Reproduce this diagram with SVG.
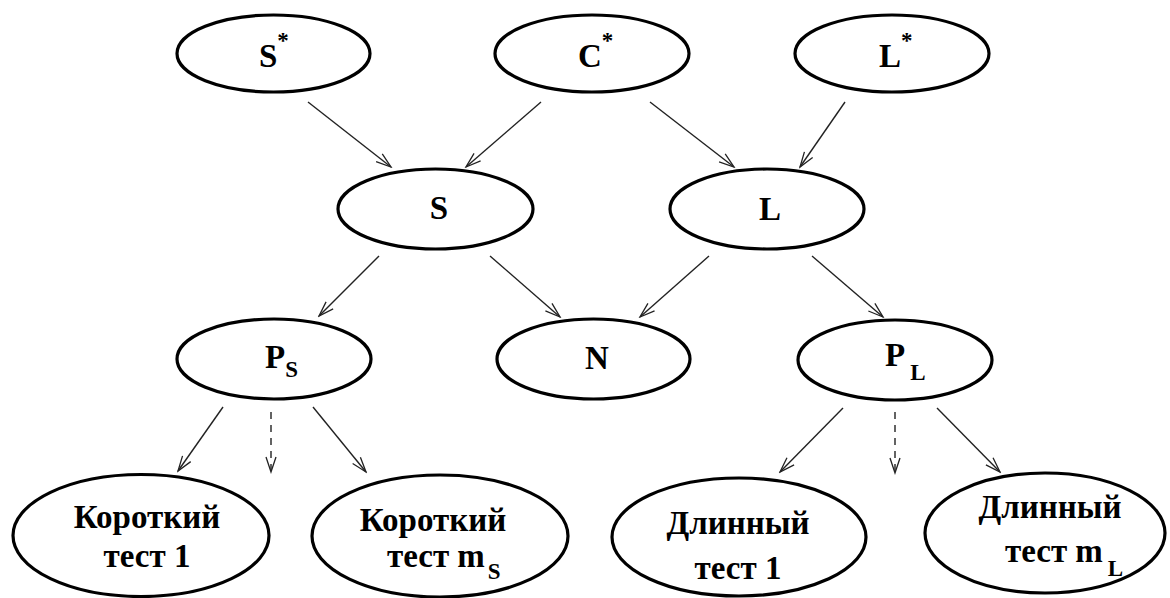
<svg xmlns="http://www.w3.org/2000/svg" width="1170" height="598" viewBox="0 0 1170 598">
<style>
.n{fill:#fff;stroke:#000;stroke-width:3.2}
text{font-family:"Liberation Serif",serif;font-weight:bold;fill:#000}
.big{font-size:33px}
.sm{font-size:33px}
.sub{font-size:23px}
.c{stroke:#222;stroke-width:1.4;fill:none}
.d{stroke-dasharray:7 6}
</style>
<defs>
<marker id="ah" markerWidth="18" markerHeight="12" refX="16" refY="6" orient="auto" markerUnits="userSpaceOnUse">
<path d="M1,1 L16,6 L1,11" fill="none" stroke="#222" stroke-width="1.3"/>
</marker>
</defs>
<rect width="1170" height="598" fill="#fff"/>
<g id="connectors">
<line class="c" x1="308" y1="102" x2="391" y2="167" marker-end="url(#ah)"/>
<line class="c" x1="541" y1="102" x2="466" y2="167" marker-end="url(#ah)"/>
<line class="c" x1="650" y1="102" x2="734" y2="167" marker-end="url(#ah)"/>
<line class="c" x1="845" y1="102" x2="800" y2="167" marker-end="url(#ah)"/>
<line class="c" x1="379" y1="256" x2="319" y2="316" marker-end="url(#ah)"/>
<line class="c" x1="490" y1="256" x2="560" y2="317" marker-end="url(#ah)"/>
<line class="c" x1="709" y1="256" x2="640" y2="317" marker-end="url(#ah)"/>
<line class="c" x1="812" y1="256" x2="883" y2="317" marker-end="url(#ah)"/>
<line class="c" x1="223" y1="407" x2="178" y2="471" marker-end="url(#ah)"/>
<line class="c d" x1="271" y1="412" x2="271" y2="472" marker-end="url(#ah)"/>
<line class="c" x1="313" y1="407" x2="366" y2="472" marker-end="url(#ah)"/>
<line class="c" x1="843" y1="408" x2="780" y2="472" marker-end="url(#ah)"/>
<line class="c d" x1="895" y1="412" x2="895" y2="473" marker-end="url(#ah)"/>
<line class="c" x1="937" y1="408" x2="1000" y2="472" marker-end="url(#ah)"/>
</g>
<g id="node-Sstar">
<ellipse class="n" cx="273.5" cy="53.5" rx="96.5" ry="38.5"/>
<text class="big" x="259" y="67">S<tspan class="sub" dy="-19">*</tspan></text>
</g>
<g id="node-Cstar">
<ellipse class="n" cx="592" cy="53.5" rx="97" ry="38.5"/>
<text class="big" x="578" y="67">C<tspan class="sub" dy="-19">*</tspan></text>
</g>
<g id="node-Lstar">
<ellipse class="n" cx="892" cy="53.5" rx="97" ry="38.5"/>
<text class="big" x="879" y="67">L<tspan class="sub" dy="-19">*</tspan></text>
</g>
<g id="node-S">
<ellipse class="n" cx="435.5" cy="209" rx="97.5" ry="40"/>
<text class="big" x="439" y="219" text-anchor="middle">S</text>
</g>
<g id="node-L">
<ellipse class="n" cx="767" cy="209" rx="97" ry="40"/>
<text class="big" x="770" y="220" text-anchor="middle">L</text>
</g>
<g id="node-PS">
<ellipse class="n" cx="274" cy="359" rx="97" ry="40"/>
<text class="big" x="265" y="368">P<tspan class="sub" dy="9">S</tspan></text>
</g>
<g id="node-N">
<ellipse class="n" cx="593.5" cy="359" rx="96.5" ry="40"/>
<text class="big" x="597" y="369" text-anchor="middle">N</text>
</g>
<g id="node-PL">
<ellipse class="n" cx="895" cy="360" rx="97" ry="40"/>
<text class="big" x="885" y="366">P<tspan class="sub" dx="5" dy="14">L</tspan></text>
</g>
<g id="node-short1">
<ellipse class="n" cx="141" cy="535.5" rx="128" ry="61"/>
<text class="sm" x="147" y="528" text-anchor="middle">Короткий</text>
<text class="sm" x="147" y="567" text-anchor="middle">тест 1</text>
</g>
<g id="node-shortm">
<ellipse class="n" cx="440" cy="536" rx="128" ry="61"/>
<text class="sm" x="433" y="531" text-anchor="middle">Короткий</text>
<text class="sm" x="387" y="567">тест m<tspan class="sub" dx="3" dy="12">S</tspan></text>
</g>
<g id="node-long1">
<ellipse class="n" cx="739" cy="537" rx="127" ry="59"/>
<text class="sm" x="738" y="534" text-anchor="middle">Длинный</text>
<text class="sm" x="738" y="579" text-anchor="middle">тест 1</text>
</g>
<g id="node-longm">
<ellipse class="n" cx="1045" cy="533" rx="120" ry="60"/>
<text class="sm" x="1050" y="518" text-anchor="middle">Длинный</text>
<text class="sm" x="1005" y="562">тест m<tspan class="sub" dx="5" dy="14">L</tspan></text>
</g>
</svg>
